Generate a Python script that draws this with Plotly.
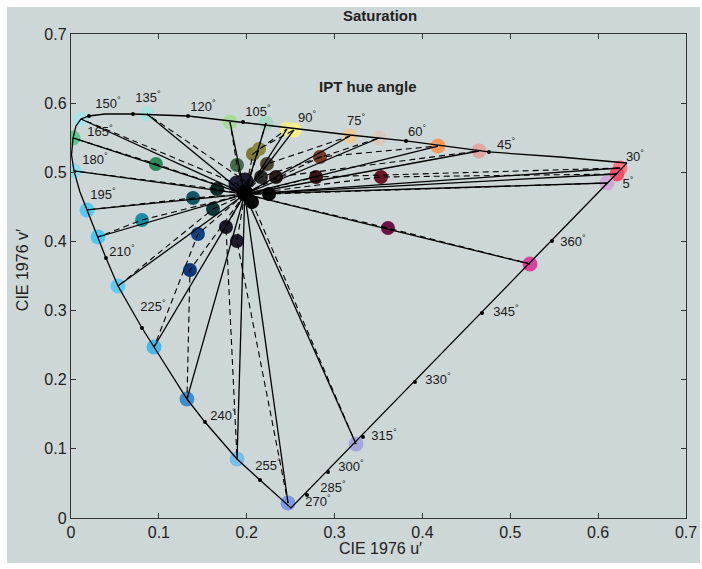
import plotly.graph_objects as go

# ---------------- data (CIE 1976 u'v') ----------------
white_u = 0.1978
white_v = 0.4683

# gamut boundary curve
boundary_u = [0.6328, 0.5566, 0.4758, 0.3813, 0.3176, 0.2606, 0.1958, 0.1332, 0.0706, 0.0387,
              0.0205, 0.0114, 0.0057, 0.0023, 0.0006, 0.0034, 0.0102, 0.0182, 0.0307, 0.0398,
              0.0535, 0.0808, 0.0945, 0.1320, 0.1525, 0.1889, 0.2151, 0.2504, 0.6328]
boundary_v = [0.5134, 0.5221, 0.5294, 0.5453, 0.5539, 0.5626, 0.5728, 0.5814, 0.5843, 0.5843,
              0.5814, 0.5771, 0.5670, 0.5496, 0.5250, 0.5019, 0.4715, 0.4455, 0.4064, 0.3760,
              0.3355, 0.2748, 0.2473, 0.1721, 0.1388, 0.0853, 0.0550, 0.0145, 0.5134]

# hue marker dots on the boundary
dot_u = [0.4758, 0.3813, 0.1958, 0.1332, 0.0706, 0.0205, 0.0398, 0.0808, 0.1525, 0.2151,
         0.2686, 0.2925, 0.3323, 0.3915, 0.4678, 0.5475]
dot_v = [0.5294, 0.5453, 0.5728, 0.5814, 0.5843, 0.5814, 0.3760, 0.2748, 0.1388, 0.0550,
         0.0333, 0.0665, 0.1172, 0.1967, 0.2965, 0.4006]

# hue angle labels
hue_labels = [5, 30, 45, 60, 75, 90, 105, 120, 135, 150, 165, 180, 195, 210, 225, 240,
              255, 270, 285, 300, 315, 330, 345, 360]
label_u = [0.6340, 0.6419, 0.4951, 0.3938, 0.3244, 0.2686, 0.2128, 0.1502, 0.0876, 0.0421,
           0.0330, 0.0273, 0.0364, 0.0580, 0.0933, 0.1730, 0.2242, 0.2811, 0.2982, 0.3187,
           0.3562, 0.4177, 0.4951, 0.5714]
label_v = [0.4816, 0.5207, 0.5380, 0.5568, 0.5727, 0.5771, 0.5858, 0.5930, 0.6060, 0.5973,
           0.5569, 0.5163, 0.4657, 0.3832, 0.3037, 0.1461, 0.0738, 0.0217, 0.0419, 0.0723,
           0.1172, 0.1981, 0.2965, 0.3977]

# outer (maximum saturation) samples
outer_u = [0.0114, 0.0865, 0.1810, 0.2220, 0.2458, 0.2538, 0.3176, 0.3506, 0.4177, 0.4644,
           0.6249, 0.6214, 0.6100, 0.5224, 0.3244, 0.2470, 0.1890, 0.1320, 0.0945, 0.0535,
           0.0307, 0.0182, 0.0034, 0.0023]
outer_v = [0.5771, 0.5843, 0.5727, 0.5713, 0.5626, 0.5612, 0.5525, 0.5496, 0.5380, 0.5308,
           0.5062, 0.4975, 0.4845, 0.3674, 0.1070, 0.0217, 0.0853, 0.1720, 0.2473, 0.3355,
           0.4064, 0.4455, 0.5019, 0.5496]
outer_color = ["#a8e4e8", "#a8e2dc", "#a6dc96", "#a6d8c6", "#ece98e", "#f4f08a", "#edc99c", "#d6cabe",
               "#f89a5c", "#e2a6a6", "#ff7888", "#f2506c", "#d2a8d6", "#d8449c", "#a6a8dc", "#7c98de",
               "#7abde8", "#3c8ecc", "#48b8e8", "#62ccf2", "#4ec8ee", "#5ac8ec", "#92dcee", "#5ec890"]

# inner (darker) samples, paired with the outer list
inner_u = [0.1889, 0.1980, 0.1889, 0.1980, 0.2071, 0.2140, 0.2231, 0.2163, 0.2834, 0.2333,
           0.2789, 0.3528, 0.2254, 0.3608, 0.2060, 0.1889, 0.1764, 0.1354, 0.1445, 0.1616,
           0.0808, 0.1389, 0.1662, 0.0967]
inner_v = [0.4831, 0.4874, 0.5106, 0.4700, 0.5265, 0.5337, 0.5120, 0.4932, 0.5221, 0.4932,
           0.4932, 0.4932, 0.4686, 0.4194, 0.4570, 0.4006, 0.4209, 0.3587, 0.4108, 0.4469,
           0.4310, 0.4628, 0.4758, 0.5120]
inner_color = ["#1e2034", "#1a1c2e", "#44684c", "#060606", "#7c7a36", "#8c8a3e", "#4c4434", "#2a2a2a",
               "#7c3c22", "#2c1a1a", "#3a1419", "#6c1428", "#0a0a0a", "#6a1446", "#0a0a0a", "#1c1c2a",
               "#1a1a2a", "#0c3a78", "#0c4280", "#0e3636", "#1e8ca6", "#125562", "#0f2a28", "#2e8a58"]
inner_size = [17, 17, 14, 17, 14, 14, 14, 14, 14, 14, 14, 14, 14, 14, 14, 14,
              14, 14, 14, 14, 14, 14, 14, 14]

# ---------------- build figure ----------------
FONT = "Liberation Sans, Arial, Helvetica, sans-serif"
fig = go.Figure()

fig.add_trace(go.Scatter(x=outer_u, y=outer_v, mode="markers",
                         marker=dict(size=15, color=outer_color, opacity=1, line=dict(width=0)),
                         hoverinfo="skip", showlegend=False))
fig.add_trace(go.Scatter(x=inner_u, y=inner_v, mode="markers",
                         marker=dict(size=inner_size, color=inner_color, opacity=1,
                                     line=dict(width=0)),
                         hoverinfo="skip", showlegend=False))

# solid lines white -> outer
su, sv = [], []
for u, v in zip(outer_u, outer_v):
    su += [white_u, u, None]
    sv += [white_v, v, None]
fig.add_trace(go.Scatter(x=su, y=sv, mode="lines", line=dict(color="black", width=1.3),
                         hoverinfo="skip", showlegend=False))

# dashed lines white -> inner -> outer
du, dv = [], []
for iu, iv, ou, ov in zip(inner_u, inner_v, outer_u, outer_v):
    du += [white_u, iu, ou, None]
    dv += [white_v, iv, ov, None]
fig.add_trace(go.Scatter(x=du, y=dv, mode="lines",
                         line=dict(color="black", width=1.1, dash="6px,4px"),
                         hoverinfo="skip", showlegend=False))

fig.add_trace(go.Scatter(x=boundary_u, y=boundary_v, mode="lines",
                         line=dict(color="black", width=1.3),
                         hoverinfo="skip", showlegend=False))
fig.add_trace(go.Scatter(x=dot_u, y=dot_v, mode="markers",
                         marker=dict(size=4, color="black", opacity=1),
                         hoverinfo="skip", showlegend=False))
fig.add_trace(go.Scatter(x=label_u, y=label_v, mode="text",
                         text=[f"{h}<sup>°</sup>" for h in hue_labels],
                         textfont=dict(family=FONT, size=13, color="#1a1a1a"),
                         hoverinfo="skip", showlegend=False))

axis_common = dict(range=[0, 0.7], dtick=0.1, ticks="inside", ticklen=5, tickwidth=1,
                   tickcolor="#333", showline=True, linecolor="#333", linewidth=1.4,
                   mirror="ticks", showgrid=False, zeroline=False, automargin=False,
                   tickfont=dict(family=FONT, size=16, color="#222"))
fig.update_xaxes(**axis_common)
fig.update_yaxes(**axis_common)

fig.update_layout(
    width=702, height=569,
    margin=dict(l=71, r=16, t=34, b=51),
    paper_bgcolor="white", plot_bgcolor="#cdd7d7",
    font=dict(family=FONT, color="#222"),
    shapes=[dict(type="rect", xref="paper", yref="paper", x0=-0.104, x1=1.0228,
                 y0=-0.093, y1=1.0558, fillcolor="#cdd7d7", line=dict(width=0), layer="below")],
    annotations=[
        dict(text="<b>Saturation</b>", xref="paper", yref="paper", x=0.503, y=1.039,
             xanchor="center", yanchor="middle",
             showarrow=False, font=dict(family=FONT, size=15, color="#222")),
        dict(text="<b>IPT hue angle</b>", xref="x", yref="y", x=0.338, y=0.6234,
             xanchor="center", yanchor="middle",
             showarrow=False, font=dict(family=FONT, size=15, color="#222")),
        dict(text="CIE 1976 u′", xref="paper", yref="paper", x=0.503, y=-0.062,
             xanchor="center", yanchor="middle",
             showarrow=False, font=dict(family=FONT, size=16, color="#222")),
        dict(text="CIE 1976 v′", xref="paper", yref="paper", x=-0.0797, y=0.512,
             xanchor="center", yanchor="middle",
             textangle=-90, showarrow=False, font=dict(family=FONT, size=16, color="#222")),
    ],
)

fig.write_html("out.html", config={"displayModeBar": False},
               post_script="document.body.style.margin='0px';")
